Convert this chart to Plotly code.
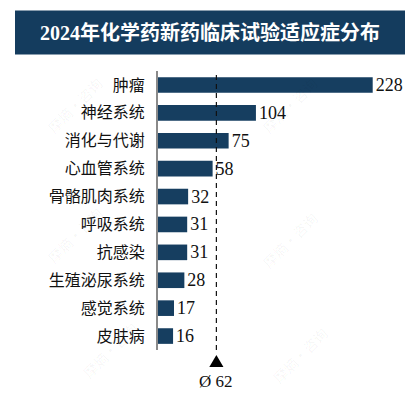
import plotly.graph_objects as go

categories = ["肿瘤", "神经系统", "消化与代谢", "心血管系统", "骨骼肌肉系统",
              "呼吸系统", "抗感染", "生殖泌尿系统", "感觉系统", "皮肤病"]
values = [228, 104, 75, 58, 32, 31, 31, 28, 17, 16]
title_text = "2024年化学药新药临床试验适应症分布"
avg = sum(values) / len(values)

W, H = 415, 394
L, R, T, B = 158, 31, 70.5, 44
PW, PH = W - L - R, H - T - B
XMAX = 240

def px_x(px):
    return (px - L) / PW

def px_y(py):
    return (H - B - py) / PH

NAVY = "#163e60"

fig = go.Figure()
fig.add_trace(go.Bar(
    y=categories, x=values, orientation="h",
    marker=dict(color=NAVY, line=dict(width=0)),
    text=[str(v) for v in values], textposition="outside",
    textfont=dict(family="Liberation Serif", size=18, color="#111111"),
    constraintext="none", cliponaxis=False, width=0.56,
))

shapes = [
    # title bar
    dict(type="rect", xref="paper", yref="paper",
         x0=px_x(15), x1=px_x(405), y0=px_y(54), y1=px_y(10),
         fillcolor="#143c5e", line=dict(width=0), layer="below"),
    # average dashed line
    dict(type="line", xref="x", yref="paper", x0=avg, x1=avg, y0=0, y1=1,
         line=dict(color="#111111", width=1.2, dash="5px,4px")),
    # triangle marker
    dict(type="path", xref="x", yref="paper",
         path=f"M {avg-7.5},{px_y(367)} L {avg+7.5},{px_y(367)} L {avg},{px_y(355)} Z",
         fillcolor="#000000", line=dict(width=0)),
]

annotations = [
    dict(text=title_text, xref="paper", yref="paper", x=px_x(210), y=px_y(32),
         showarrow=False, xanchor="center", yanchor="middle",
         font=dict(family="Liberation Serif, Noto Sans CJK SC", size=20, color="white", weight="bold")),
    dict(text=f"Ø {avg:.0f}", xref="x", yref="paper", x=avg, y=px_y(382),
         showarrow=False, xanchor="center", yanchor="middle",
         font=dict(family="Liberation Serif", size=17, color="#111111")),
]

# faint watermarks
for cx, cy in [(75, 105), (290, 105), (75, 235), (290, 240), (110, 350), (300, 355)]:
    annotations.append(dict(text="摩熵·咨询", xref="paper", yref="paper",
                            x=px_x(cx), y=px_y(cy), showarrow=False, textangle=-45,
                            xanchor="center", yanchor="middle",
                            font=dict(family="Noto Sans CJK SC", size=14, color="rgba(0,0,0,0.045)")))

fig.update_layout(
    width=W, height=H, margin=dict(l=L, r=R, t=T, b=B),
    paper_bgcolor="white", plot_bgcolor="white",
    showlegend=False, bargap=0.44,
    xaxis=dict(range=[0, XMAX], visible=False, fixedrange=True),
    yaxis=dict(autorange="reversed", showline=True, linecolor="#8a8a8a", linewidth=2,
               ticks="", showgrid=False, ticklabelstandoff=8, fixedrange=True,
               tickfont=dict(family="Liberation Serif, Noto Sans CJK SC", size=16, color="#111111")),
    shapes=shapes, annotations=annotations,
)

fig.write_html("out.html", config={"displayModeBar": False},
               post_script="document.body.style.margin='0';document.body.style.overflow='hidden';")
